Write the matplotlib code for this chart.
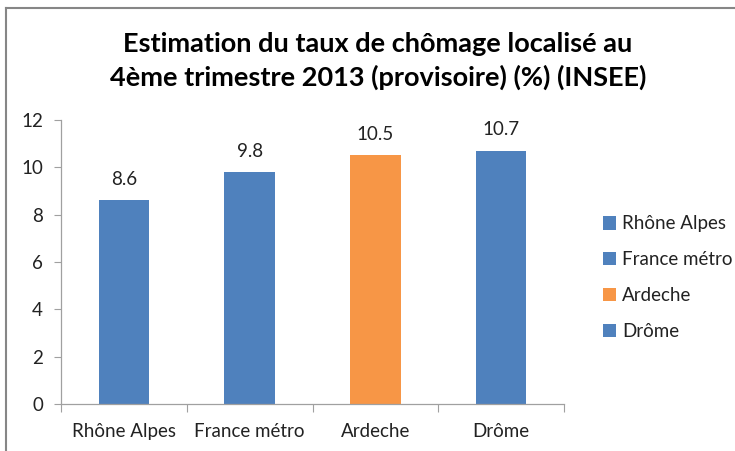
import matplotlib
matplotlib.use("Agg")
import matplotlib.pyplot as plt
from matplotlib.patches import Patch
from matplotlib.lines import Line2D

categories = ["Rhône Alpes", "France métro", "Ardeche", "Drôme"]
values = [8.6, 9.8, 10.5, 10.7]
colors = ["#4F81BD", "#4F81BD", "#F79646", "#4F81BD"]
yticks = [0, 2, 4, 6, 8, 10, 12]
title = "Estimation du taux de chômage localisé au\n4ème trimestre 2013 (provisoire) (%) (INSEE)"

plt.rcParams['font.family'] = ['Lato', 'DejaVu Sans']
fig = plt.figure(figsize=(7.35, 4.51), dpi=100)
ax = fig.add_axes([61/735, 1-404/451, (564-61)/735, (404-120)/451])

fs = 13.5
x = list(range(len(categories)))
bars = ax.bar(x, values, width=0.4, color=colors, zorder=2)
for xi, v in zip(x, values):
    ax.annotate(f"{v}", (xi, v), xytext=(0, 9), textcoords="offset points",
                ha="center", va="bottom", fontsize=fs, color="#222222")

ax.set_xlim(-0.5, len(categories) - 0.5)
ax.set_ylim(0, 12)
ax.set_yticks(yticks)
ax.set_yticklabels([str(t) for t in yticks], fontsize=fs, color="#222222")
ax.set_xticks([i - 0.5 for i in range(len(categories) + 1)])
ax.set_xticklabels([])
ax.set_xticks(x, minor=True)
ax.set_xticklabels(categories, minor=True, fontsize=fs, color="#222222")
ax.tick_params(axis='x', which='major', length=6, color="#A0A0A0", direction='out')
ax.tick_params(axis='x', which='minor', length=0, pad=14)
ax.tick_params(axis='y', length=5, color="#A0A0A0", pad=8)
for s in ['top', 'right']:
    ax.spines[s].set_visible(False)
for s in ['left', 'bottom']:
    ax.spines[s].set_color("#A0A0A0")
    ax.spines[s].set_linewidth(0.9)

fig.text(378/735, 1-61/451, title, ha="center", va="center", fontsize=19.5,
         fontweight="bold", color="#000000", linespacing=1.4)

handles = [Patch(facecolor=c, edgecolor='none') for c in colors]
leg = fig.legend(handles, categories, loc="upper left", bbox_to_anchor=(595/735, 1-208/451),
                 frameon=False, fontsize=fs, handlelength=0.7, handleheight=0.7,
                 handletextpad=0.35, labelspacing=1.0, borderaxespad=0)
for t in leg.get_texts():
    t.set_color("#222222")

# chart border (top and left edges visible)
fig.add_artist(Line2D([6/735, 6/735], [0, 1-8/451], transform=fig.transFigure, color="#868686", lw=1.5))
fig.add_artist(Line2D([6/735, 1], [1-8/451, 1-8/451], transform=fig.transFigure, color="#868686", lw=1.5))

fig.savefig("out.png", dpi=100)
